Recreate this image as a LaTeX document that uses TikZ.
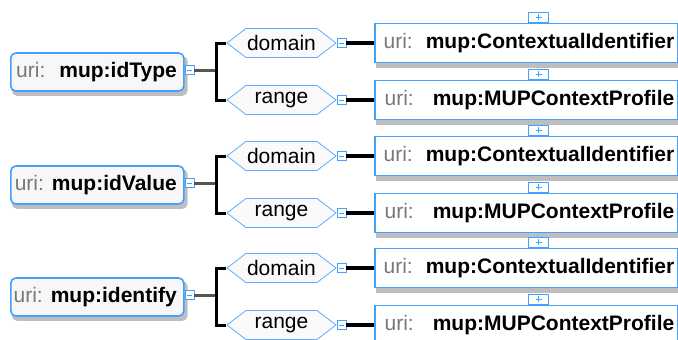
\documentclass[tikz,border=0pt]{standalone}
\usepackage{fontspec}
\setmainfont{Liberation Sans}
\usetikzlibrary{positioning,shapes.symbols,backgrounds}
\definecolor{boxblue}{RGB}{66,160,255}
\definecolor{hexblue}{RGB}{92,172,255}
\definecolor{urigray}{RGB}{120,120,120}
\definecolor{linkgray}{RGB}{85,85,85}
\definecolor{shadowgray}{RGB}{190,190,190}
\newcommand{\urilabel}{\textcolor{urigray}{uri:}}

\begin{document}
\begin{tikzpicture}[x=1pt,y=-1pt,
  font=\fontsize{21}{25}\selectfont,
  propbox/.style={draw=boxblue, line width=1.6pt, rounded corners=5pt, fill=white!97!black,
    minimum height=38pt, minimum width=173pt, inner xsep=7pt, anchor=west},
  classbox/.style={draw=boxblue, line width=1.6pt, fill=white, minimum height=39pt,
    minimum width=303pt, inner xsep=3.5pt, anchor=west},
  shade/.style={fill=shadowgray},
  hexnode/.style={signal, signal to=west and east, signal pointer angle=75, draw=hexblue,
    line width=0.8pt, fill=white!98!black, minimum width=109pt, minimum height=29pt, inner sep=0pt},
  minusbox/.style={draw=boxblue, line width=0.8pt, fill=white, minimum size=9pt, inner sep=0pt, anchor=west,
    path picture={\draw[boxblue, line width=1pt] ([xshift=-2.5pt]path picture bounding box.center)
      -- ([xshift=2.5pt]path picture bounding box.center);}},
  plusbox/.style={draw=boxblue, line width=0.8pt, fill=white, minimum width=20pt, minimum height=10pt,
    inner sep=0pt, anchor=south,
    path picture={\draw[boxblue, line width=1pt] ([xshift=-3pt]path picture bounding box.center)
      -- ([xshift=3pt]path picture bounding box.center) ([yshift=-3pt]path picture bounding box.center)
      -- ([yshift=3pt]path picture bounding box.center);}},
  stub/.style={linkgray, line width=3pt},
  bar/.style={black, line width=3pt},
  link/.style={black, line width=3.8pt}]
\useasboundingbox (0,0) rectangle (678,340);
\foreach \n/\by/\pname/\pgap in {1/43/idType/14pt, 2/156/idValue/8pt, 3/268/identify/8pt} {
  % property and its domain/range
  \node[propbox] (prop\n) at (10,\by+29)
    {\makebox[159pt][r]{\urilabel\hspace{\pgap}\textbf{mup:\pname}}};
  \node[hexnode] (dom\n) at (281.5,\by) {domain};
  \node[hexnode] (rng\n) at (281.5,\by+57) {range};
  \node[minusbox] (pm\n) at ([yshift=2pt]prop\n.east) {};
  \node[minusbox] (dm\n) at (dom\n.east) {};
  \node[minusbox] (rm\n) at (rng\n.east) {};
  % classes
  \node[classbox] (dcls\n) at (374,\by)
    {\makebox[296pt][r]{\urilabel\hspace{13pt}\textbf{mup:ContextualIdentifier}}};
  \node[classbox] (rcls\n) at (374,\by+57)
    {\makebox[296pt][r]{\urilabel\hspace{19pt}\textbf{mup:MUPContextProfile}}};
  \node[plusbox] (dp\n) at ([xshift=12.5pt]dcls\n.north) {};
  \node[plusbox] (rp\n) at ([xshift=12.5pt]rcls\n.north) {};
  % shadows
  \begin{scope}[on background layer]
    \fill[shade, rounded corners=5pt] ([shift={(2pt,-4pt)}]prop\n.north west)
      rectangle ([shift={(3pt,-4pt)}]prop\n.south east);
    \fill[shade] ([shift={(2pt,-4pt)}]dcls\n.north west) rectangle ([shift={(2pt,-4.5pt)}]dcls\n.south east);
    \fill[shade] ([shift={(2pt,-4pt)}]rcls\n.north west) rectangle ([shift={(2pt,-4.5pt)}]rcls\n.south east);
  \end{scope}
  % links
  \coordinate (fork\n) at ([xshift=22pt]pm\n.east);
  \draw[stub] (pm\n.east) -- (fork\n);
  \draw[bar] (dom\n.west) -| (fork\n) |- (rng\n.west);
  \draw[link] (dm\n.east) -- (dcls\n.west);
  \draw[link] (rm\n.east) -- (rcls\n.west);
}
\end{tikzpicture}
\end{document}
